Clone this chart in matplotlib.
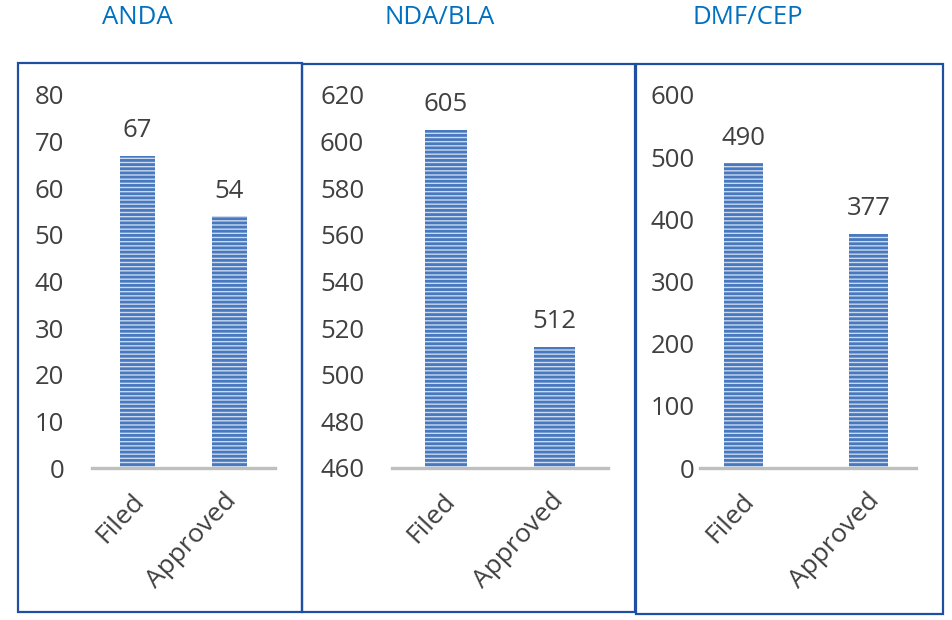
import matplotlib
matplotlib.use("Agg")
import matplotlib.pyplot as plt
from matplotlib.patches import Rectangle

plt.rcParams['font.family'] = ['Open Sans', 'DejaVu Sans']
plt.rcParams['hatch.linewidth'] = 2.0

W, H = 953, 620

titles = ["ANDA", "NDA/BLA", "DMF/CEP"]
categories = ["Filed", "Approved"]
anda_values = [67, 54]
nda_values = [605, 512]
dmf_values = [490, 377]
anda_ticks = [0, 10, 20, 30, 40, 50, 60, 70, 80]
nda_ticks = [460, 480, 500, 520, 540, 560, 580, 600, 620]
dmf_ticks = [0, 100, 200, 300, 400, 500, 600]

panels = [
    dict(title=titles[0], values=anda_values, ticks=anda_ticks,
         ax_px=(92, 275), centers=(137.5, 229.5), barw=35, pad=20,
         title_x=137, box=(18, 63, 302, 612)),
    dict(title=titles[1], values=nda_values, ticks=nda_ticks,
         ax_px=(392, 608), centers=(446, 554.5), barw=41.5, pad=20,
         title_x=440, box=(302, 64, 635, 612)),
    dict(title=titles[2], values=dmf_values, ticks=dmf_ticks,
         ax_px=(700, 916), centers=(743, 868.5), barw=39, pad=4,
         title_x=748, box=(636, 64, 943, 614)),
]

fig = plt.figure(figsize=(W / 100, H / 100), dpi=100)

y_top_px, y_bot_px = 95, 468
tick_color = '#404040'
fs = 18.5

for p in panels:
    l, r = p['ax_px']
    wpx = r - l
    ax = fig.add_axes([l / W, (H - y_bot_px) / H, wpx / W, (y_bot_px - y_top_px) / H])
    c0, c1 = p['centers']
    spacing = c1 - c0
    xmin = -(c0 - l) / spacing
    xmax = 1 + (r - c1) / spacing
    ax.set_xlim(xmin, xmax)
    ticks = p['ticks']
    ax.set_ylim(ticks[0], ticks[-1])
    x = list(range(len(categories)))
    bw = p['barw'] / spacing
    ax.bar(x, p['values'], width=bw, color='#cbdaef', edgecolor='none', zorder=2)
    ax.bar(x, p['values'], width=bw, color='none', edgecolor='#4878bd',
           hatch='----', linewidth=0, zorder=3)
    for xi, v in zip(x, p['values']):
        ax.annotate(str(v), (xi, v), xytext=(0, 9), textcoords='offset points',
                    ha='center', va='bottom', fontsize=fs, color=tick_color)
    for s in ax.spines.values():
        s.set_visible(False)
    ax.axhline(ticks[0], color='#bfbfbf', linewidth=2.4, zorder=4, clip_on=False)
    ax.set_yticks(ticks)
    ax.set_yticklabels([str(t) for t in ticks])
    ax.tick_params(axis='y', length=0, pad=p['pad'], labelsize=fs, labelcolor=tick_color)
    ax.set_xticks([])
    for xi, cat in zip(x, categories):
        ax.text(xi + 0.13, -0.055, cat, transform=ax.get_xaxis_transform(),
                rotation=47, ha='right', va='top', fontsize=19, color=tick_color)
    ax.patch.set_alpha(0)
    fig.text(p['title_x'] / W, 1 - 18 / H, p['title'], ha='center', va='center',
             fontsize=fs, color='#0070c0')
    x0, y0, x1, y1 = p['box']
    fig.patches.append(Rectangle((x0 / W, 1 - y1 / H), (x1 - x0) / W, (y1 - y0) / H,
                                 transform=fig.transFigure, fill=False,
                                 edgecolor='#1f4fa3', linewidth=1.6))

fig.savefig("out.png", dpi=100)
